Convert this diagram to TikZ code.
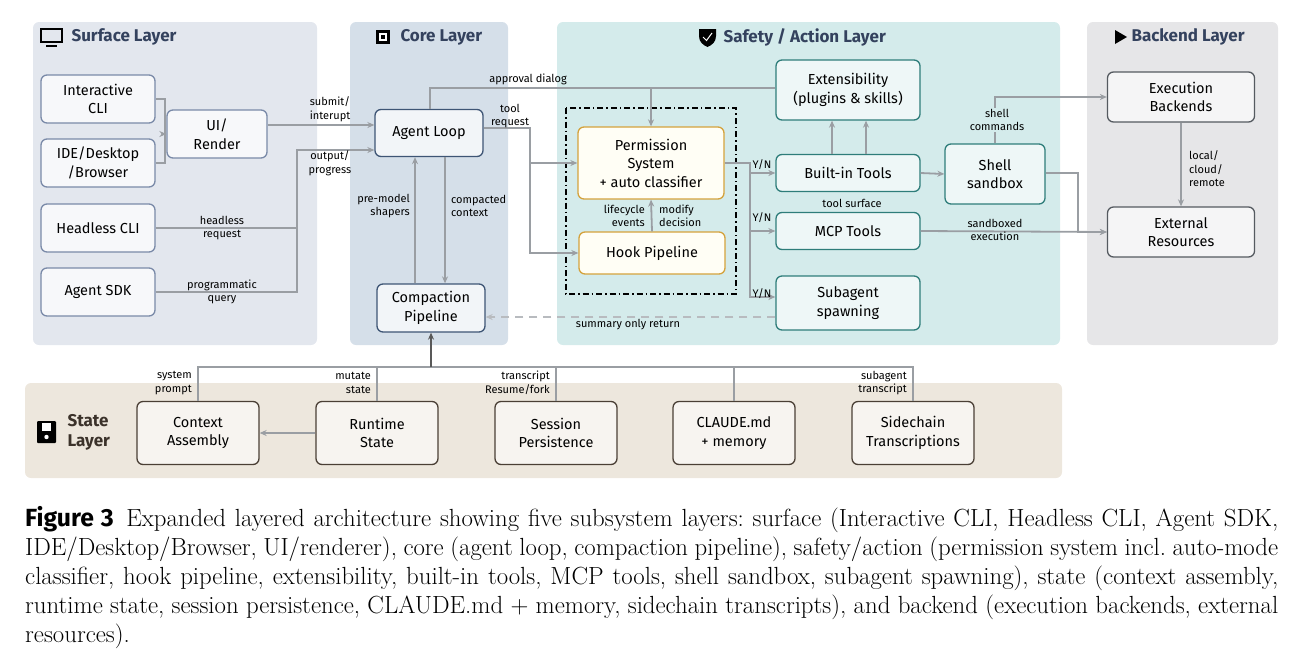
\documentclass[tikz,border=0pt]{standalone}
\usepackage{fontspec}
\setmainfont{Latin Modern Roman}
\newfontfamily\diagfont{Fira Sans}
\usetikzlibrary{positioning,arrows.meta}
\definecolor{surfbg}{HTML}{E3E7EE}
\definecolor{corebg}{HTML}{D5DFE9}
\definecolor{safebg}{HTML}{D4EBEB}
\definecolor{backbg}{HTML}{E6E6E8}
\definecolor{statebg}{HTML}{EDE7DD}
\definecolor{surfline}{HTML}{7A8AA8}
\definecolor{coreline}{HTML}{3E5575}
\definecolor{safeline}{HTML}{2E7D7A}
\definecolor{permline}{HTML}{D4A23C}
\definecolor{backline}{HTML}{555A60}
\definecolor{stateline}{HTML}{4A3F35}
\definecolor{titlecol}{HTML}{34425E}
\definecolor{wire}{HTML}{9A9EA3}
\tikzset{
  panel/.style={fill=#1,rounded corners=6pt,draw=none},
  box/.style={rectangle,rounded corners=6pt,line width=1.3pt,align=center,
    font=\diagfont\fontsize{14.5}{18.5}\selectfont,inner sep=2pt},
  surf/.style={box,draw=surfline,fill=white!70!surfbg,minimum width=114pt,minimum height=48pt},
  core/.style={box,draw=coreline,fill=white!70!corebg,minimum width=108pt,minimum height=47pt},
  safe/.style={box,draw=safeline,fill=white!60!safebg,minimum width=144pt},
  perm/.style={box,draw=permline,fill=yellow!4,minimum width=146pt},
  back/.style={box,draw=backline,fill=white!60!backbg,minimum width=147pt,minimum height=50pt},
  st/.style={box,draw=stateline,fill=white!55!statebg,minimum width=122pt,minimum height=63pt},
  ttl/.style={font=\diagfont\bfseries\fontsize{17}{20}\selectfont,text=titlecol},
  lbl/.style={font=\diagfont\fontsize{11}{13.5}\selectfont,align=center,inner sep=1pt},
  arr/.style={line width=1.8pt,draw=wire,-{Stealth[length=7pt,width=6pt]}},
  ln/.style={line width=1.8pt,draw=wire}
}
\begin{document}
\begin{tikzpicture}[x=1pt,y=-1pt]
\useasboundingbox (0,0) rectangle (1305,662);
% panels
\fill[panel=surfbg] (33,22) rectangle (317,345);
\fill[panel=corebg] (350,22) rectangle (508,345);
\fill[panel=safebg] (557,22) rectangle (1060,345);
\fill[panel=backbg] (1087,22) rectangle (1278,345);
\fill[panel=statebg] (25,383) rectangle (1062,478);
% titles and icons
\draw[line width=1.3pt] (41,29) rectangle (62,42); \draw[line width=1.3pt] (46,46) -- (57,46);
\node[ttl,anchor=west] (tsurf) at (68,37) {Surface Layer};
\fill (376,30) rectangle (390,44); \fill[white] (379,33) rectangle (387,41); \fill (381,35) rectangle (385,39);
\node[ttl,anchor=west] (tcore) at (397,37) {Core Layer};
\fill (699,29) -- (716,29) -- (716,36) .. controls (716,42) and (712,45) .. (707.5,47) .. controls (703,45) and (699,42) .. (699,36) -- cycle;
\draw[white,line width=1pt] (703,37) -- (706.5,40.5) -- (712,33);
\node[ttl,anchor=west] (tsafe) at (720,37) {Safety / Action Layer};
\fill (1115,30) -- (1127,37) -- (1115,44) -- cycle;
\node[ttl,anchor=west] (tback) at (1128,37) {Backend Layer};
\fill[rounded corners=1pt] (37,421) rectangle (56,443); \fill[white] (42,423) rectangle (51,431); \fill[white] (46.5,437) circle (2.2pt);
\node[ttl,align=left,anchor=west,text=stateline!80!black] (tstate) at (64,432) {State\\Layer};
% surface nodes
\node[surf] (icli) at (98,99) {Interactive\\CLI};
\node[surf] (ide) at (98,163) {IDE/Desktop\\/Browser};
\node[surf] (hcli) at (98,228) {Headless CLI};
\node[surf] (sdk) at (98,292) {Agent SDK};
\node[surf,minimum width=100pt] (ui) at (217,134) {UI/\\Render};
% core nodes
\node[core] (loop) at (429,133) {Agent Loop};
\node[core,minimum height=48pt] (comp) at (431,308) {Compaction\\Pipeline};
% safety nodes
\draw[line width=1.2pt,dash pattern=on 6pt off 3pt on 1.5pt off 3pt] (566,108) rectangle (736,294);
\node[perm,minimum height=72pt] (perm) at (651,163) {Permission\\System\\+ auto classifier};
\node[perm,minimum height=42pt] (hook) at (652,253) {Hook Pipeline};
\node[safe,minimum height=60pt] (ext) at (848,90) {Extensibility\\(plugins \& skills)};
\node[safe,minimum height=37pt] (bit) at (848,173) {Built-in Tools};
\node[safe,minimum height=37pt] (mcp) at (848,231) {MCP Tools};
\node[safe,minimum height=54pt] (sub) at (848,303) {Subagent\\spawning};
\node[safe,minimum width=100pt,minimum height=60pt] (shell) at (995,174) {Shell\\sandbox};
% backend nodes
\node[back] (exec) at (1181,97) {Execution\\Backends};
\node[back] (extr) at (1181,232) {External\\Resources};
% state nodes
\node[st] (ctx) at (198,433) {Context\\Assembly};
\node[st] (rt) at (377,433) {Runtime\\State};
\node[st] (sess) at (556,433) {Session\\Persistence};
\node[st] (mem) at (734,433) {CLAUDE.md\\+ memory};
\node[st] (side) at (913,433) {Sidechain\\Transcriptions};
% surface connectors
\draw[ln] (icli.east|-0,99) -| (165,134);
\draw[arr] (ide.east|-0,163) -| (165,134) -- (ui.west);
\draw[arr] (ui.east|-0,125) -- (loop.west|-0,125);
\node[lbl] at (330,109) {submit/\\interupt};
\draw[ln] (hcli.east) -| (297,150);
\draw[arr] (sdk.east) -| (297,150) -- (loop.west|-0,150);
\node[lbl] at (330,163) {output/\\progress};
\node[lbl] at (222,228) {headless\\request};
\node[lbl] at (222,292) {programmatic\\query};
% core connectors
\draw[arr] (comp.north-|415,0) -- (loop.south-|415,0);
\draw[arr] (loop.south-|445,0) -- (comp.north-|445,0);
\node[lbl,anchor=east,align=right] at (411,206) {pre-model\\shapers};
\node[lbl,anchor=west,align=left] at (450,206) {compacted\\context};
\draw[ln] (loop.north-|430,0) |- (ext.west|-0,88);
\draw[arr] (651,88) -- (perm.north);
\node[lbl] at (528,79) {approval dialog};
\draw[arr] (loop.east|-0,128) -| (530,163) -- (perm.west);
\draw[arr] (530,163) |- (hook.west);
\node[lbl] at (510,116) {tool\\request};
% safety connectors
\draw[arr] (hook.north) -- (perm.south);
\node[lbl,anchor=east,align=right] at (646,216) {lifecycle\\events};
\node[lbl,anchor=west,align=left] at (658,216) {modify\\decision};
\draw[arr] (perm.east|-0,163) -| (750,173) -- (bit.west);
\draw[arr] (750,173) |- (mcp.west);
\draw[arr] (750,231) |- (sub.west|-0,297);
\node[lbl] at (762,165) {Y/N};
\node[lbl] at (762,218) {Y/N};
\node[lbl] at (762,294) {Y/N};
\draw[arr] (bit.north-|832,0) -- (ext.south-|832,0);
\draw[arr] (bit.north-|866,0) -- (ext.south-|866,0);
\draw[arr] (bit.east) -- (shell.west);
\node[lbl] at (852,203) {tool surface};
\draw[arr] (shell.north) |- (exec.west);
\node[lbl,fill=safebg] at (997,120) {shell\\commands};
\draw[arr] (shell.east|-0,173) -| (1078,232) -- (extr.west);
\draw[arr] (mcp.east) -- (extr.west);
\node[lbl] at (995,230) {sandboxed\\execution};
\draw[arr] (exec.south) -- (extr.north);
\node[lbl,anchor=west,align=left] at (1188,169) {local/\\cloud/\\remote};
\draw[line width=1.8pt,draw=wire!70,dash pattern=on 8pt off 6pt,-{Stealth[length=7pt,width=6pt]}] (sub.west|-0,317) -- (comp.east|-0,317);
\node[lbl] at (628,325) {summary only return};
% state connectors
\draw[ln] (ctx.north) -- (198,367) -- (913,367) -- (side.north);
\draw[ln] (rt.north) -- (377,367);
\draw[ln] (sess.north) -- (556,367);
\draw[ln] (mem.north) -- (734,367);
\draw[line width=2pt,draw=black!65,-{Stealth[length=7pt,width=6pt]}] (431,367) -- (comp.south);
\draw[arr] (rt.west) -- (ctx.east);
\node[lbl,anchor=east,align=right] at (193,383) {system\\prompt};
\node[lbl,anchor=east,align=right] at (372,383) {mutate\\state};
\node[lbl,anchor=east,align=right] at (551,383) {transcript\\Resume/fork};
\node[lbl,anchor=east,align=right] at (908,383) {subagent\\transcript};
% caption
\node[anchor=north west,text width=1253pt,align=justify,inner sep=0pt,font=\fontsize{24.8}{29}\selectfont\frenchspacing] (cap) at (25,506)
{{\diagfont\bfseries Figure 3}\enspace Expanded layered architecture showing five subsystem layers: surface (Interactive CLI, Headless CLI, Agent SDK, IDE/Desktop/Browser, UI/renderer), core (agent loop, compaction pipeline), safety/action (permission system incl. auto-mode classifier, hook pipeline, extensibility, built-in tools, MCP tools, shell sandbox, subagent spawning), state (context assembly, runtime state, session persistence, CLAUDE.md + memory, sidechain transcripts), and backend (execution backends, external resources).};
\end{tikzpicture}
\end{document}
